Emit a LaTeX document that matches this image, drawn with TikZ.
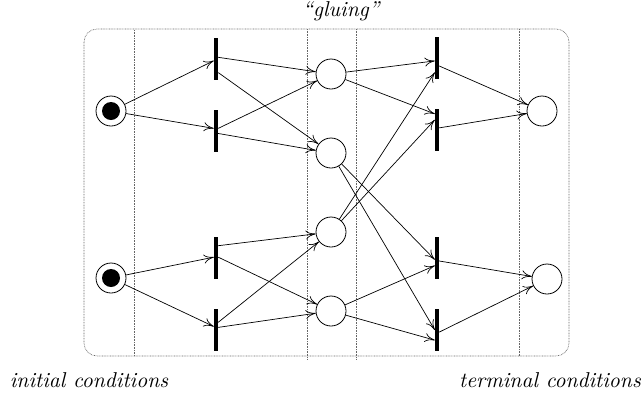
\documentclass[tikz,border=0pt]{standalone}
\usetikzlibrary{calc,arrows.meta}
\tikzset{
  place/.style={draw,circle,line width=0.8pt,minimum size=30pt,inner sep=0pt},
  bar/.style={fill=black,rectangle,minimum width=4pt,minimum height=42pt,inner sep=0pt},
  token/.style={fill=black,circle,minimum size=18pt,inner sep=0pt},
  arr/.style={line width=0.7pt,-{Computer Modern Rightarrow[length=10pt,width=9pt,line width=0.7pt]}},
  frame/.style={black!60,line width=0.6pt,dash pattern=on 0.8pt off 0.8pt},
  lbl/.style={scale=2.15,inner sep=0pt,anchor=base,font=\itshape}
}
\newcommand{\inp}[2]{($(#1.north west)!#2!(#1.south west)$)}
\newcommand{\outp}[2]{($(#1.north east)!#2!(#1.south east)$)}
\begin{document}
\begin{tikzpicture}[x=1pt,y=-1pt]
\useasboundingbox (0,0) rectangle (644,397);
% frame
\draw[frame,rounded corners=13pt] (84,29) rectangle (569,356);
\draw[frame] (134,30) -- (134,356);
\draw[frame] (307,29) -- (307,359);
\draw[frame] (356,29) -- (356,359);
\draw[frame] (519,29) -- (519,356);
% labels
\node[lbl] (glu) at (341,16) {``gluing''};
\node[lbl] (ini) at (89,387) {initial conditions};
\node[lbl] (ter) at (550,387) {terminal conditions};
% initial places
\node[place] (P1) at (111,111) {};
\node[token] (K1) at (P1) {};
\node[place] (P2) at (111,278) {};
\node[token] (K2) at (P2) {};
% left transitions
\node[bar] (T1) at (216,59) {};
\node[bar] (T2) at (216,130.5) {};
\node[bar] (T3) at (216,258) {};
\node[bar] (T4) at (216,329.5) {};
% middle places
\node[place] (C1) at (331,74) {};
\node[place] (C2) at (331,153) {};
\node[place] (C3) at (331,232) {};
\node[place] (C4) at (331,311) {};
% right transitions
\node[bar] (T5) at (437,57.5) {};
\node[bar] (T6) at (437,130) {};
\node[bar] (T7) at (437,258) {};
\node[bar] (T8) at (437,330) {};
% terminal places
\node[place] (R1) at (542,111) {};
\node[place] (R2) at (547,279) {};
% arcs: initial -> left transitions
\draw[arr] (P1) -- \inp{T1}{0.54};
\draw[arr] (P1) -- \inp{T2}{0.45};
\draw[arr] (P2) -- \inp{T3}{0.48};
\draw[arr] (P2) -- \inp{T4}{0.43};
% left transitions -> middle places
\draw[arr] \outp{T1}{0.46} -- (C1);
\draw[arr] \outp{T1}{0.82} -- (C2);
\draw[arr] \outp{T2}{0.45} -- (C1);
\draw[arr] \outp{T2}{0.57} -- (C2);
\draw[arr] \outp{T3}{0.21} -- (C3);
\draw[arr] \outp{T3}{0.48} -- (C4);
\draw[arr] \outp{T4}{0.33} -- (C3);
\draw[arr] \outp{T4}{0.45} -- (C4);
% middle places -> right transitions
\draw[arr] (C1) -- \inp{T5}{0.58};
\draw[arr] (C1) -- \inp{T6}{0.12};
\draw[arr] (C2) -- \inp{T7}{0.54};
\draw[arr] (C2) -- \inp{T8}{0.50};
\draw[arr] (C3) -- \inp{T5}{0.85};
\draw[arr] (C3) -- \inp{T6}{0.26};
\draw[arr] (C4) -- \inp{T7}{0.68};
\draw[arr] (C4) -- \inp{T8}{0.74};
% right transitions -> terminal places
\draw[arr] \outp{T5}{0.70} -- (R1);
\draw[arr] \outp{T6}{0.45} -- (R1);
\draw[arr] \outp{T7}{0.57} -- (R2);
\draw[arr] \outp{T8}{0.55} -- (R2);
\end{tikzpicture}
\end{document}
